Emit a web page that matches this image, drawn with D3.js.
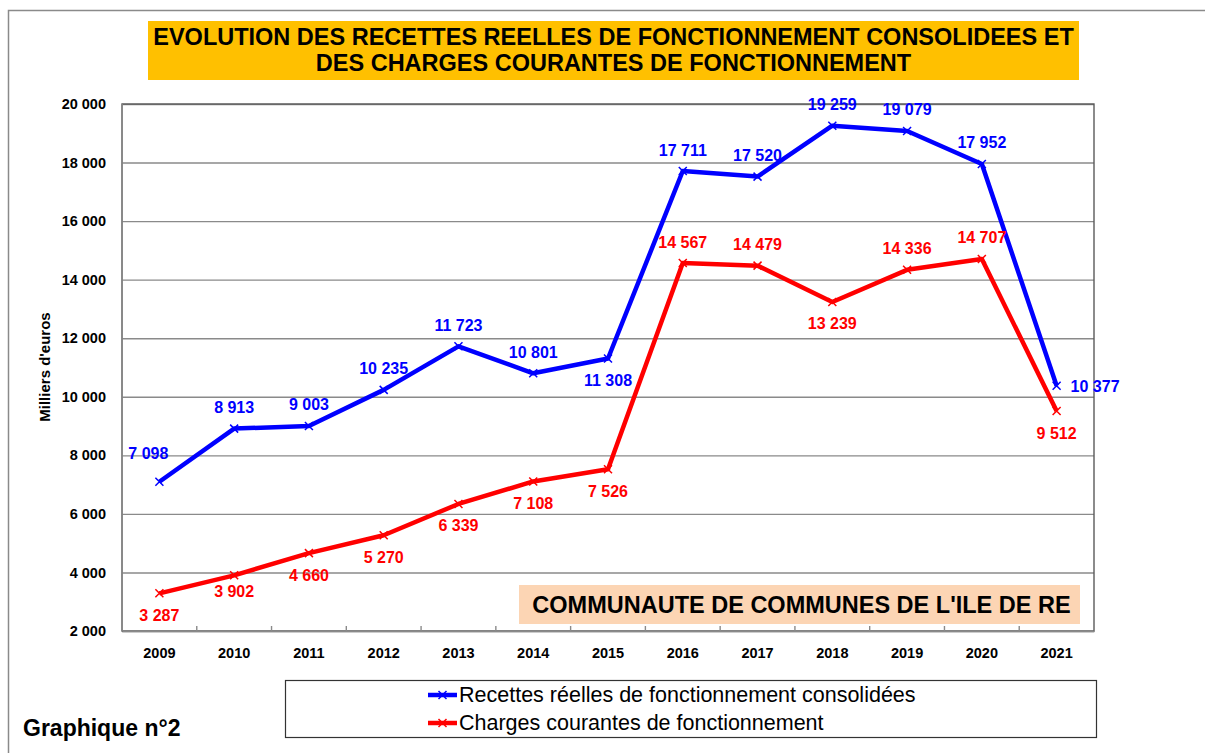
<!DOCTYPE html>
<html>
<head>
<meta charset="utf-8">
<title>Graphique n°2</title>
<script src="https://cdn.jsdelivr.net/npm/d3@7"></script>
<style>
    body { margin: 0; background: #fff; }
    svg { display: block; font-family: 'Liberation Sans', Arial, sans-serif; }
</style>
</head>
<body>
<div id="main"></div>
<script>
//
// data
//
const years = ['2009', '2010', '2011', '2012', '2013', '2014', '2015',
    '2016', '2017', '2018', '2019', '2020', '2021'];
const recettes = [7098, 8913, 9003, 10235, 11723, 10801, 11308,
    17711, 17520, 19259, 19079, 17952, 10377];
const charges = [3287, 3902, 4660, 5270, 6339, 7108, 7526,
    14567, 14479, 13239, 14336, 14707, 9512];
const yTicks = [2000, 4000, 6000, 8000, 10000, 12000, 14000, 16000, 18000, 20000];

// where each value label sits relative to its point
const recettesLabelPos = ['aboveLeft', 'above', 'above', 'above', 'above', 'above', 'below',
    'above', 'above', 'above', 'above', 'above', 'right'];
const chargesLabelPos = ['below', 'belowNear', 'below', 'below', 'below', 'below', 'below',
    'above', 'above', 'below', 'above', 'above', 'below'];

const titleLines = ['EVOLUTION DES RECETTES REELLES DE FONCTIONNEMENT CONSOLIDEES ET',
    'DES CHARGES COURANTES DE FONCTIONNEMENT'];

const series = [
    { name: 'Recettes réelles de fonctionnement consolidées', values: recettes, pos: recettesLabelPos, color: '#0000ff' },
    { name: 'Charges courantes de fonctionnement', values: charges, pos: chargesLabelPos, color: '#ff0000' }
];

const fmt = v => d3.format(',')(v).replace(/,/g, ' ');

window.onload = function () {
    const width = 1205, height = 753;
    const plot = { left: 122, top: 104, right: 1094, bottom: 631 };

    const svg = d3.select('#main').append('svg')
        .attr('width', width)
        .attr('height', height);

    // outer frame (runs off the right and bottom edges)
    svg.append('rect')
        .attr('x', 8.5).attr('y', 10.5)
        .attr('width', 1220).attr('height', 770)
        .attr('fill', 'none')
        .attr('stroke', '#8a8a8a')
        .attr('stroke-width', 1.5);

    // title box
    svg.append('rect')
        .attr('x', 148).attr('y', 21)
        .attr('width', 931).attr('height', 59)
        .attr('fill', '#ffc000');
    svg.selectAll('.title')
        .data(titleLines)
        .join('text')
        .attr('class', 'title')
        .attr('x', 613.5)
        .attr('y', (d, i) => 37 + i * 26)
        .attr('text-anchor', 'middle')
        .attr('dominant-baseline', 'central')
        .style('font-size', '23.5px')
        .style('font-weight', 'bold')
        .text(d => d);

    // scales
    const x = d3.scaleBand()
        .domain(years)
        .range([plot.left, plot.right]);
    const y = d3.scaleLinear()
        .domain([2000, 20000])
        .range([plot.bottom, plot.top]);
    const cx = d => x(d) + x.bandwidth() / 2;

    // gridlines + y axis labels
    const yAxis = svg.append('g')
        .attr('transform', `translate(${plot.left}, 0)`)
        .call(d3.axisLeft(y).tickValues(yTicks).tickSize(-(plot.right - plot.left)).tickPadding(16).tickFormat(fmt));
    yAxis.select('.domain').remove();
    yAxis.selectAll('line')
        .attr('stroke', '#8a8a8a')
        .attr('stroke-width', 1.4);
    yAxis.selectAll('text')
        .attr('fill', '#000')
        .style('font-size', '14.5px')
        .style('font-weight', 'bold')
        .style('font-family', "'Liberation Sans', Arial, sans-serif");

    // plot area border
    svg.append('rect')
        .attr('x', plot.left).attr('y', plot.top)
        .attr('width', plot.right - plot.left)
        .attr('height', plot.bottom - plot.top)
        .attr('fill', 'none')
        .attr('stroke', '#5a5a5a')
        .attr('stroke-width', 1.4);
    svg.append('line')
        .attr('x1', plot.left).attr('x2', plot.left)
        .attr('y1', plot.top).attr('y2', plot.bottom)
        .attr('stroke', '#8a8a8a').attr('stroke-width', 1.6);

    // x axis with ticks pointing inward at the band edges
    const xAxis = svg.append('g')
        .attr('transform', `translate(0, ${plot.bottom})`)
        .call(d3.axisBottom(x).tickSize(0).tickPadding(17));
    xAxis.select('.domain')
        .attr('stroke', '#8a8a8a')
        .attr('stroke-width', 1.6);
    xAxis.selectAll('text')
        .attr('fill', '#000')
        .style('font-size', '14.5px')
        .style('font-weight', 'bold')
        .style('font-family', "'Liberation Sans', Arial, sans-serif");
    xAxis.selectAll('.edge')
        .data(years.slice(1))
        .join('line')
        .attr('class', 'edge')
        .attr('x1', d => x(d)).attr('x2', d => x(d))
        .attr('y1', 0).attr('y2', -5)
        .attr('stroke', '#8a8a8a')
        .attr('stroke-width', 1.4);

    // y axis title
    svg.append('text')
        .attr('transform', 'translate(44, 367) rotate(-90)')
        .attr('text-anchor', 'middle')
        .attr('dominant-baseline', 'central')
        .style('font-size', '15px')
        .style('font-weight', 'bold')
        .text("Milliers d'euros");

    // community box
    svg.append('rect')
        .attr('x', 519).attr('y', 585)
        .attr('width', 561).attr('height', 39)
        .attr('fill', '#fcd5b4');
    svg.append('text')
        .attr('x', 801.5).attr('y', 605)
        .attr('text-anchor', 'middle')
        .attr('dominant-baseline', 'central')
        .style('font-size', '23.5px')
        .style('font-weight', 'bold')
        .text("COMMUNAUTE DE COMMUNES DE L'ILE DE RE");

    const line = d3.line()
        .x((d, i) => cx(years[i]))
        .y(d => y(d));

    const cross = (g, color) => {
        g.append('path')
            .attr('d', 'M-4,-4L4,4M-4,4L4,-4')
            .attr('stroke', color)
            .attr('stroke-width', 1.5)
            .attr('fill', 'none');
    };

    // label offsets by placement keyword
    const offsets = {
        above: { dx: 0, dy: -21, anchor: 'middle' },
        below: { dx: 0, dy: 22, anchor: 'middle' },
        belowNear: { dx: 0, dy: 16, anchor: 'middle' },
        right: { dx: 14, dy: 1, anchor: 'start' },
        aboveLeft: { dx: -11, dy: -28, anchor: 'middle' }
    };

    series.forEach(s => {
        const g = svg.append('g');
        g.append('path')
            .datum(s.values)
            .attr('d', line)
            .attr('fill', 'none')
            .attr('stroke', s.color)
            .attr('stroke-width', 4.5)
            .attr('stroke-linejoin', 'round');

        g.selectAll('.mark')
            .data(s.values)
            .join('g')
            .attr('class', 'mark')
            .attr('transform', (d, i) => `translate(${cx(years[i])}, ${y(d)})`)
            .each(function () { cross(d3.select(this), s.color); });

        g.selectAll('.lbl')
            .data(s.values)
            .join('text')
            .attr('class', 'lbl')
            .attr('x', (d, i) => cx(years[i]) + offsets[s.pos[i]].dx)
            .attr('y', (d, i) => y(d) + offsets[s.pos[i]].dy)
            .attr('text-anchor', (d, i) => offsets[s.pos[i]].anchor)
            .attr('dominant-baseline', 'central')
            .attr('fill', s.color)
            .style('font-size', '16px')
            .style('font-weight', 'bold')
            .text(d => fmt(d));
    });

    // legend
    const legend = svg.append('g');
    legend.append('rect')
        .attr('x', 285.5).attr('y', 680.5)
        .attr('width', 811).attr('height', 57)
        .attr('fill', '#fff')
        .attr('stroke', '#333')
        .attr('stroke-width', 1.2);
    const items = legend.selectAll('.item')
        .data(series)
        .join('g')
        .attr('class', 'item')
        .attr('transform', (d, i) => `translate(428, ${695 + i * 28})`);
    items.append('line')
        .attr('x1', 0).attr('x2', 29)
        .attr('stroke', d => d.color)
        .attr('stroke-width', 4.5);
    items.each(function (d) {
        const it = d3.select(this).append('g').attr('transform', 'translate(14.5, 0)');
        cross(it, d.color);
    });
    items.append('text')
        .attr('x', 31)
        .attr('dominant-baseline', 'central')
        .style('font-size', '21.5px')
        .text(d => d.name);

    // caption
    svg.append('text')
        .attr('x', 23).attr('y', 736)
        .style('font-size', '23px')
        .style('font-weight', 'bold')
        .text('Graphique n°2');
};
</script>
</body>
</html>
